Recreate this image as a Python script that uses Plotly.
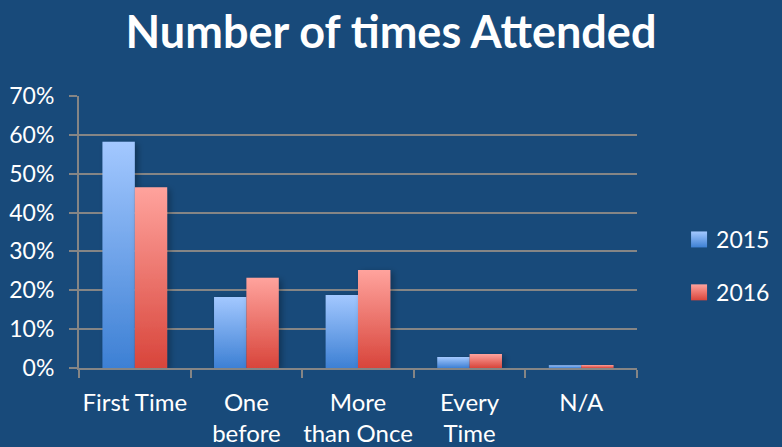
import plotly.graph_objects as go

categories = ["First Time", "One<br>before", "More<br>than Once", "Every<br>Time", "N/A"]
series_names = ["2015", "2016"]
values_2015 = [0.582, 0.183, 0.188, 0.028, 0.007]
values_2016 = [0.465, 0.232, 0.252, 0.036, 0.008]
y_ticks = [0, 0.1, 0.2, 0.3, 0.4, 0.5, 0.6, 0.7]

BG = "#184a7a"
GRID = "#858585"
FONT = "Lato, 'Open Sans', sans-serif"

fig = go.Figure()
fig.add_trace(go.Bar(x=categories, y=values_2015, name=series_names[0],
                     marker=dict(color="#7aaaf0", line=dict(width=0)), legendgroup="a"))
fig.add_trace(go.Bar(x=categories, y=values_2016, name=series_names[1],
                     marker=dict(color="#ee7a72", line=dict(width=0)), legendgroup="b"))

fig.update_layout(
    width=782, height=447,
    paper_bgcolor=BG, plot_bgcolor=BG,
    margin=dict(l=79, r=145, t=96, b=79, autoexpand=False),
    title=dict(text="<b>Number of times Attended</b>", x=0.5, xanchor="center",
               y=0.928, yanchor="middle",
               font=dict(family=FONT, size=45, color="white")),
    font=dict(family=FONT, size=23, color="white"),
    barmode="group", bargap=0.42, bargroupgap=0,
    showlegend=True,
    legend=dict(x=1.07, xanchor="left", y=0.375, yanchor="middle",
                font=dict(size=23, color="white"), tracegroupgap=20,
                bgcolor="rgba(0,0,0,0)"),
)
fig.update_yaxes(range=[0, 0.7], tickvals=y_ticks, tickformat=".0%",
                 showgrid=True, gridcolor=GRID, gridwidth=2,
                 showline=True, linecolor=GRID, linewidth=2,
                 ticks="outside", ticklen=8, tickcolor=GRID, tickwidth=2,
                 zeroline=False, automargin=False, ticklabelstandoff=10,
                 tickfont=dict(size=23, color="white"))
fig.update_xaxes(showline=True, linecolor=GRID, linewidth=2,
                 ticks="outside", tickson="boundaries", ticklen=8,
                 tickcolor=GRID, tickwidth=2, showgrid=False, tickangle=0,
                 automargin=False, ticklabelstandoff=12,
                 tickfont=dict(size=24, color="white"))

post = """
(function(){
document.body.style.margin = '0';
var gd = document.getElementById('{plot_id}');
function apply(){
  var svg = gd.querySelector('svg.main-svg');
  if(!svg) return;
  var ns = 'http://www.w3.org/2000/svg';
  var defs = svg.querySelector('defs');
  if(!defs){ defs = document.createElementNS(ns,'defs'); svg.insertBefore(defs, svg.firstChild); }
  var stops = [['#a3c8ff','#3d80d4'],['#ffa39d','#d8453b']];
  stops.forEach(function(s,i){
    if(document.getElementById('bgrad'+i)) return;
    var g = document.createElementNS(ns,'linearGradient');
    g.setAttribute('id','bgrad'+i);
    g.setAttribute('x1','0'); g.setAttribute('y1','0');
    g.setAttribute('x2','0'); g.setAttribute('y2','1');
    var a = document.createElementNS(ns,'stop'); a.setAttribute('offset','0'); a.setAttribute('stop-color',s[0]);
    var b = document.createElementNS(ns,'stop'); b.setAttribute('offset','1'); b.setAttribute('stop-color',s[1]);
    g.appendChild(a); g.appendChild(b); defs.appendChild(g);
  });
  if(!document.getElementById('bshadow')){
    var f = document.createElementNS(ns,'filter');
    f.setAttribute('id','bshadow');
    f.setAttribute('x','-30%'); f.setAttribute('y','-10%');
    f.setAttribute('width','160%'); f.setAttribute('height','130%');
    var d = document.createElementNS(ns,'feDropShadow');
    d.setAttribute('dx','3'); d.setAttribute('dy','2');
    d.setAttribute('stdDeviation','3');
    d.setAttribute('flood-color','#000'); d.setAttribute('flood-opacity','0.3');
    f.appendChild(d); defs.appendChild(f);
  }
  gd.querySelectorAll('g.trace.bars').forEach(function(t,i){
    t.querySelectorAll('path').forEach(function(p){
      p.style.fill='url(#bgrad'+i+')';
      p.setAttribute('filter','url(#bshadow)');
    });
  });
  gd.querySelectorAll('g.legend g.traces').forEach(function(t,i){
    t.querySelectorAll('g.legendpoints path').forEach(function(p){
      p.style.fill='url(#bgrad'+i+')';
      p.setAttribute('d','M31,8H15V-8H31Z');
      p.removeAttribute('transform');
    });
  });
}
apply();
gd.on && gd.on('plotly_afterplot', apply);
})();
"""

fig.write_html("out.html", post_script=post, config={"displayModeBar": False})
